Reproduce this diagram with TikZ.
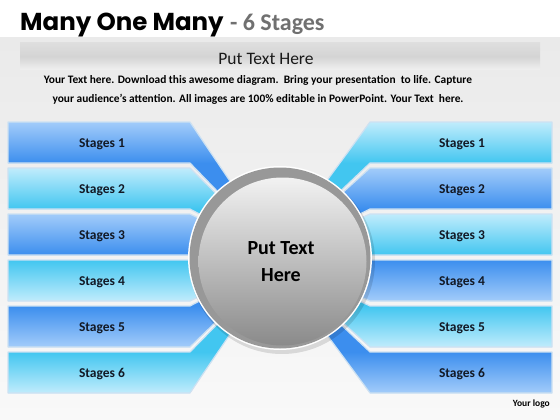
\documentclass[tikz,border=0pt]{standalone}
\usepackage{fontspec}
\setmainfont{Carlito}
\newfontfamily\poppins{Poppins}
\definecolor{bluL}{RGB}{162,204,250}
\definecolor{bluD}{RGB}{60,142,238}
\definecolor{cyaL}{RGB}{192,236,252}
\definecolor{cyaD}{RGB}{66,198,240}
\definecolor{barline}{RGB}{205,225,242}
\definecolor{ringgray}{RGB}{152,152,152}
\definecolor{txt}{RGB}{18,24,36}
\tikzset{
  barborder/.style={draw=barline, line width=1.2pt, line join=round},
  stagetext/.style={font=\bfseries\fontsize{13.5}{15}\selectfont, text=txt, inner sep=0pt},
}
\begin{document}
\begin{tikzpicture}[x=1pt,y=-1pt]
\useasboundingbox (0,0) rectangle (560,420);
% background
\fill[white] (0,0) rectangle (560,420);
\shade[top color={rgb,255:red,234;green,234;blue,234}, bottom color={rgb,255:red,249;green,249;blue,249}] (0,38) rectangle (560,420);
\shade[top color={rgb,255:red,222;green,222;blue,222}, bottom color={rgb,255:red,240;green,240;blue,240}, middle color={rgb,255:red,212;green,212;blue,212}] (20,43) rectangle (540,70);
% title
\node[anchor=base west, inner sep=0pt, font=\poppins\bfseries\fontsize{24.5}{30}\selectfont] (title) at (20,31) {Many One Many};
\node[anchor=base west, inner sep=0pt, font=\bfseries\fontsize{24}{28}\selectfont, text={rgb,255:red,112;green,112;blue,112}] (sub) at ([xshift=6pt]title.base east) {- 6 Stages};
\node[font=\fontsize{17.5}{20}\selectfont, inner sep=0pt, text=black!90] (head) at (266,59) {Put Text Here};
\node[font=\bfseries\fontsize{11.4}{18.5}\selectfont, align=center, inner sep=0pt] (body) at (258,90) {Your Text here. Download this awesome diagram.\ \ Bring your presentation\ \ to life. Capture\\ your audience’s attention. All images are 100\% editable in PowerPoint. Your Text\ \ here.};
% left bars
\foreach \i/\tc/\bc in {1/bluL/bluD, 2/cyaL/cyaD, 3/bluL/bluD, 4/cyaD/cyaL, 5/bluD/bluL, 6/cyaD/cyaL} {
  \pgfmathsetmacro\ytop{122+46*(\i-1)}
  \pgfmathsetmacro\ybot{\ytop+41}
  \pgfmathsetmacro\ymid{\ytop+22}
  \begin{scope}
    \clip (8,\ytop) -- (190,\ytop) -- (282,258) -- (190,\ybot) -- (8,\ybot) -- cycle;
    \fill[\tc] (0,0) rectangle (560,\ytop);
    \fill[\bc] (0,\ybot) rectangle (560,420);
    \shade[top color=\tc, bottom color=\bc] (0,\ytop) rectangle (560,\ybot);
  \end{scope}
  \draw[barborder] (8,\ytop) -- (190,\ytop) -- (282,258) -- (190,\ybot) -- (8,\ybot) -- cycle;
  \node[stagetext] (L\i) at (102,\ymid) {Stages \i};
}
% right bars
\foreach \i/\tc/\bc in {1/cyaL/cyaD, 2/bluL/bluD, 3/cyaL/cyaD, 4/bluD/bluL, 5/cyaD/cyaL, 6/bluD/bluL} {
  \pgfmathsetmacro\ytop{122+46*(\i-1)}
  \pgfmathsetmacro\ybot{\ytop+41}
  \pgfmathsetmacro\ymid{\ytop+22}
  \begin{scope}
    \clip (552,\ytop) -- (370,\ytop) -- (270,258) -- (370,\ybot) -- (552,\ybot) -- cycle;
    \fill[\tc] (0,0) rectangle (560,\ytop);
    \fill[\bc] (0,\ybot) rectangle (560,420);
    \shade[top color=\tc, bottom color=\bc] (0,\ytop) rectangle (560,\ybot);
  \end{scope}
  \draw[barborder] (552,\ytop) -- (370,\ytop) -- (270,258) -- (370,\ybot) -- (552,\ybot) -- cycle;
  \node[stagetext] (R\i) at (462,\ymid) {Stages \i};
}
% central circle
\fill[black, opacity=0.12] (282,261) circle (93);
\fill[white] (280,258) circle (92);
\fill[ringgray] (280,258) circle (90.5);
\shade[top color={rgb,255:red,242;green,242;blue,242}, middle color={rgb,255:red,196;green,196;blue,196}, bottom color={rgb,255:red,138;green,138;blue,138}] (282.5,261.5) circle (84);
\node[align=center, font=\bfseries\fontsize{20}{27}\selectfont, text=black, inner sep=0pt] (hub) at (281,262) {Put Text\\Here};
% logo
\node[anchor=east, font=\bfseries\fontsize{9.5}{11}\selectfont, inner sep=0pt] (logo) at (550,404) {Your logo};
\end{tikzpicture}
\end{document}
